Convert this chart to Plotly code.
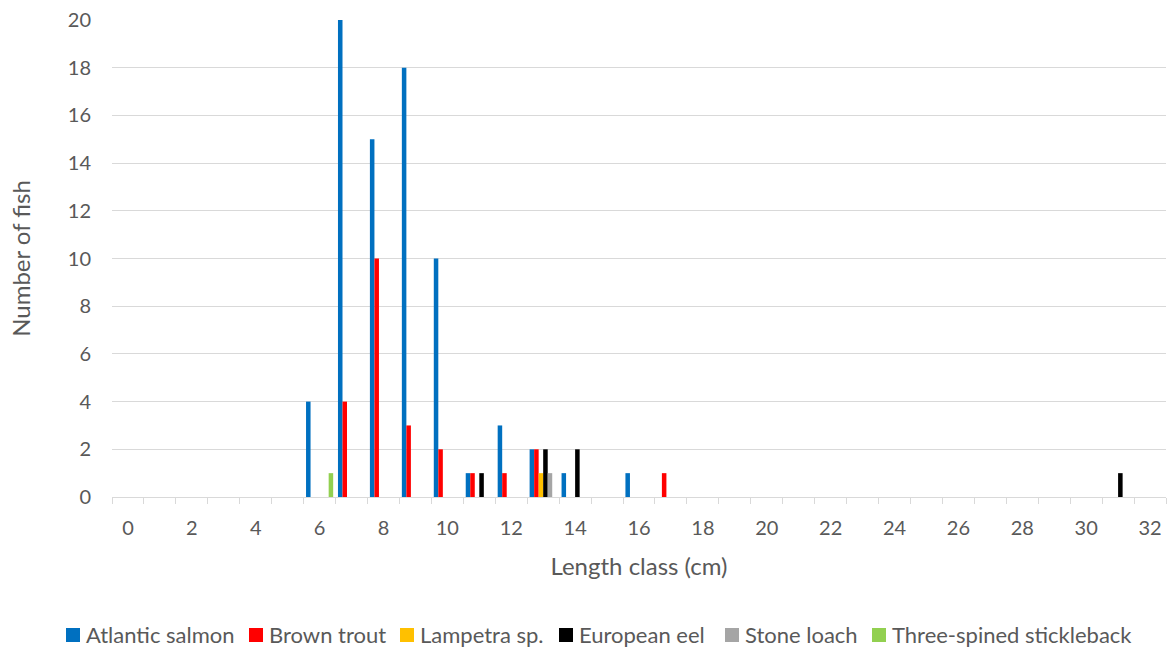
import plotly.graph_objects as go

# Length classes (cm)
length_class = list(range(0, 33))

# Counts per length class for each species
atlantic_salmon = {6: 4, 7: 20, 8: 15, 9: 18, 10: 10, 11: 1, 12: 3, 13: 2, 14: 1, 16: 1}
brown_trout = {7: 4, 8: 10, 9: 3, 10: 2, 11: 1, 12: 1, 13: 2, 17: 1}
lampetra_sp = {13: 1}
european_eel = {11: 1, 13: 2, 14: 2, 31: 1}
stone_loach = {13: 1}
three_spined_stickleback = {6: 1}

series_names = ["Atlantic salmon", "Brown trout", "Lampetra sp.", "European eel",
                "Stone loach", "Three-spined stickleback"]
series_counts = [atlantic_salmon, brown_trout, lampetra_sp, european_eel,
                 stone_loach, three_spined_stickleback]
series_colors = ["#0070C0", "#FF0000", "#FFC000", "#000000", "#A5A5A5", "#92D050"]

y_ticks = list(range(0, 21, 2))
x_ticks = list(range(0, 33, 2))

W, H = 1169, 649
M_L, M_R, M_T, M_B = 112, 3, 20, 152
PLOT_W = W - M_L - M_R
PLOT_H = H - M_T - M_B

FONT = "Lato"
TEXT = "#595959"
GRID = "#D9D9D9"


def px_to_paper_x(px):
    return (px - M_L) / PLOT_W


def px_to_paper_y(py):
    return (H - M_B - py) / PLOT_H


fig = go.Figure()
for name, counts, color in zip(series_names, series_counts, series_colors):
    fig.add_trace(go.Bar(
        x=length_class,
        y=[counts.get(c, 0) for c in length_class],
        name=name,
        marker=dict(color=color, line=dict(width=0)),
        showlegend=False,
    ))

# Single-row legend beneath the x-axis title: colour swatch + label per species
legend_left_px = [66, 249, 400, 559, 725, 872]
legend_mid_px = 635
swatch = 14
for left, name, color in zip(legend_left_px, series_names, series_colors):
    fig.add_shape(
        type="rect", xref="paper", yref="paper",
        x0=px_to_paper_x(left), x1=px_to_paper_x(left + swatch),
        y0=px_to_paper_y(legend_mid_px + swatch / 2), y1=px_to_paper_y(legend_mid_px - swatch / 2),
        fillcolor=color, line=dict(width=0),
    )
    fig.add_annotation(
        xref="paper", yref="paper",
        x=px_to_paper_x(left + swatch + 5), y=px_to_paper_y(legend_mid_px - 1),
        xanchor="left", yanchor="middle",
        text=name, showarrow=False, borderpad=0,
        font=dict(family=FONT, size=22, color=TEXT),
    )

fig.update_layout(
    width=W,
    height=H,
    margin=dict(l=M_L, r=M_R, t=M_T, b=M_B),
    barmode="group",
    bargap=0.15,
    bargroupgap=0,
    showlegend=False,
    plot_bgcolor="white",
    paper_bgcolor="white",
    font=dict(family=FONT, size=20, color=TEXT),
    xaxis=dict(
        range=[-0.5, 32.5],
        tickvals=x_ticks,
        ticktext=[str(v) for v in x_ticks],
        ticks="",
        ticklabelstandoff=13,
        showgrid=False,
        zeroline=False,
        showline=True,
        linecolor=GRID,
        linewidth=1,
        minor=dict(ticks="outside", tick0=0.5, dtick=1, ticklen=6,
                   tickcolor=GRID, tickwidth=1, showgrid=False),
        title=dict(text="Length class (cm)", font=dict(size=24, color=TEXT), standoff=20),
    ),
    yaxis=dict(
        range=[0, 20],
        tickvals=y_ticks,
        ticks="",
        showgrid=True,
        gridcolor=GRID,
        gridwidth=1,
        zeroline=False,
        showline=False,
        ticklabelstandoff=20,
        title=dict(text="Number of fish", font=dict(size=24, color=TEXT), standoff=30),
    ),
)

fig.write_html("out.html")
